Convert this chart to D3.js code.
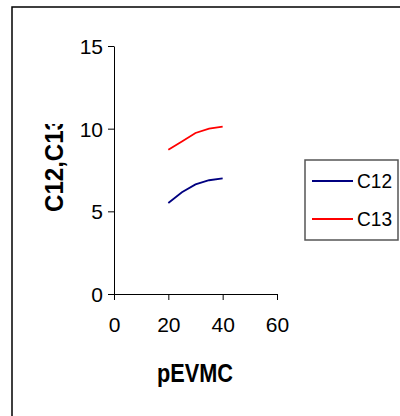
<!DOCTYPE html>
<html><head><meta charset="utf-8">
<script src="https://cdn.jsdelivr.net/npm/d3@7"></script>
<style>body{margin:0;background:#fff;} svg{display:block;font-family:"Liberation Sans",Arial,sans-serif;}</style>
</head><body>
<svg id="c" width="400" height="416"></svg>
<script>
const xValues = [20, 25, 30, 35, 40];
const c12 = [5.5, 6.15, 6.63, 6.88, 7.0];
const c13 = [8.72, 9.22, 9.74, 10.0, 10.12];
const seriesNames = ["C12", "C13"];
const seriesColors = ["#000080", "#ff0000"];
const xTicks = [0, 20, 40, 60];
const yTicks = [0, 5, 10, 15];
const xTitle = "pEVMC";
const yTitle = "C12,C13";

const svg = d3.select("#c");
// outer frame
svg.append("rect").attr("x", 12).attr("y", 7).attr("width", 400).attr("height", 420)
  .attr("fill", "none").attr("stroke", "#000").attr("stroke-width", 1.5);

const x = d3.scaleLinear().domain([0, 60]).range([114, 277]);
const y = d3.scaleLinear().domain([0, 15]).range([294, 46]);

const xAxis = svg.append("g").attr("transform", "translate(0,294)")
  .call(d3.axisBottom(x).tickValues(xTicks).tickSize(6).tickPadding(17).tickSizeOuter(0));
const yAxis = svg.append("g").attr("transform", "translate(114,0)")
  .call(d3.axisLeft(y).tickValues(yTicks).tickSize(6).tickPadding(5).tickSizeOuter(0));
[xAxis, yAxis].forEach(g => {
  g.select(".domain").attr("stroke", "#000").attr("stroke-width", 1);
  g.selectAll(".tick line").attr("stroke", "#000");
  g.selectAll("text").attr("font-size", 21).attr("fill", "#000")
    .attr("font-family", "'Liberation Sans', Arial, sans-serif");
});
xAxis.selectAll("text").attr("dy", "0.71em");
yAxis.selectAll("text").attr("dy", "0.36em");

const line = d3.line().x(d => x(d[0])).y(d => y(d[1]));
[c12, c13].forEach((vals, i) => {
  svg.append("path").datum(xValues.map((xv, j) => [xv, vals[j]]))
    .attr("d", line).attr("fill", "none").attr("stroke", seriesColors[i]).attr("stroke-width", 1.8);
});

// axis titles
svg.append("text").attr("x", 195).attr("y", 382).attr("text-anchor", "middle")
  .attr("font-size", 25).attr("font-weight", "bold").attr("textLength", 76)
  .attr("lengthAdjust", "spacingAndGlyphs").text(xTitle);

svg.append("clipPath").attr("id", "yclip").append("rect")
  .attr("x", 0).attr("y", 124).attr("width", 100).attr("height", 200);
svg.append("g").attr("clip-path", "url(#yclip)")
  .append("text").attr("transform", "translate(63,212) rotate(-90)")
  .attr("text-anchor", "start").attr("font-size", 25).attr("font-weight", "bold")
  .attr("textLength", 95).attr("lengthAdjust", "spacingAndGlyphs").text(yTitle);

// legend
const lg = svg.append("g");
lg.append("rect").attr("x", 305).attr("y", 160).attr("width", 93).attr("height", 80)
  .attr("fill", "#fff").attr("stroke", "#555").attr("stroke-width", 1.5);
seriesNames.forEach((n, i) => {
  const yy = 181 + i * 38;
  lg.append("line").attr("x1", 312).attr("x2", 353).attr("y1", yy).attr("y2", yy)
    .attr("stroke", seriesColors[i]).attr("stroke-width", 1.8);
  lg.append("text").attr("x", 357).attr("y", yy).attr("dy", "0.36em")
    .attr("font-size", 20).attr("textLength", 35).attr("lengthAdjust", "spacingAndGlyphs").text(n);
});
</script>
</body></html>
